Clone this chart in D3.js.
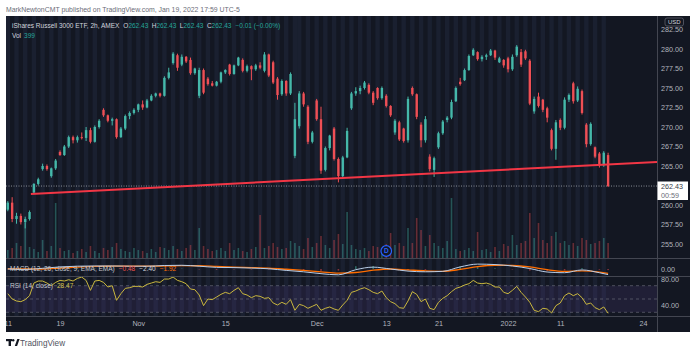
<!DOCTYPE html>
<html><head><meta charset="utf-8">
<script src="https://cdn.jsdelivr.net/npm/d3@7"></script>
<style>body{margin:0;background:#fff;}svg{display:block;font-family:"Liberation Sans",Arial,sans-serif;}</style>
</head><body>
<svg id="c" width="694" height="352"></svg>
<script>
// ---- DATA (2 candles per trading day, Oct 11 2021 – Jan 19 2022; Nov 26 half day = 1 candle)
const open=[259.4,260.3,258.2,258.6,257.8,258.2,261.6,262.7,264.6,265.0,
263.7,264.7,266.8,266.4,267.5,268.7,268.3,268.7,268.6,269.6,
268.1,270.0,272.2,271.5,270.8,271.0,268.7,269.8,271.4,271.8,
272.2,272.9,272.5,273.4,274.0,274.3,274.0,276.3,278.2,279.2,
278.0,279.0,278.6,276.9,274.0,277.3,276.2,275.6,275.3,275.8,
277.0,278.0,276.8,277.9,278.6,277.2,277.8,277.4,277.9,277.2,
279.3,278.3,276.2,274.2,275.9,274.3,266.3,270.1,274.3,272.6,
268.1,273.4,271.0,264.5,267.3,269.8,265.9,263.7,266.1,272.4,
274.3,274.6,275.0,275.4,274.4,275.0,273.7,274.0,272.7,269.3,
270.6,269.8,268.3,275.0,274.2,270.3,268.3,266.2,264.5,267.4,
269.2,270.9,271.2,273.3,275.8,276.0,277.3,279.2,279.6,278.7,
279.0,279.2,279.8,278.3,278.6,278.8,277.4,279.2,279.6,279.7,
278.5,272.0,273.9,273.5,272.4,269.6,267.2,270.9,269.9,273.5,
275.6,273.4,274.6,270.3,267.8,267.4,266.6,265.1,266.4];
const high=[260.5,261.0,259.0,258.9,258.5,259.3,262.8,263.5,265.3,265.2,
264.8,265.9,267.0,267.7,268.9,268.9,268.9,269.3,270.0,269.9,
270.2,271.0,272.4,271.6,271.2,271.1,270.0,271.6,272.0,272.4,
273.0,273.4,273.6,274.2,274.4,274.4,276.5,277.6,279.6,279.4,
279.3,279.1,278.9,277.6,277.6,277.5,276.4,275.9,275.9,277.1,
277.4,278.1,278.0,279.0,278.8,278.0,277.9,278.1,278.3,279.6,
279.4,278.5,276.4,276.1,276.0,277.0,273.1,274.6,274.5,272.8,
269.5,273.6,272.6,267.5,269.0,270.0,266.1,266.3,269.9,274.5,
275.1,275.3,275.9,275.6,274.6,275.1,275.2,274.2,272.8,271.0,
270.8,269.9,273.9,275.2,274.3,270.6,271.4,266.5,266.2,269.4,
270.9,271.4,273.5,275.2,276.3,277.5,279.3,280.1,279.7,279.2,
279.4,280.0,279.9,279.0,278.7,279.0,279.3,280.5,280.0,279.9,
278.7,273.9,274.4,273.6,272.6,269.8,270.9,271.1,273.8,274.3,
275.8,275.2,274.8,270.5,270.6,267.5,266.8,266.9,266.7];
const low=[259.2,257.8,257.6,257.5,257.0,258.0,261.4,262.5,264.4,264.4,
263.5,264.5,266.3,266.3,267.3,267.9,268.0,268.4,268.2,267.9,
268.0,269.8,271.3,270.6,270.2,268.5,268.6,269.6,271.0,271.6,
271.9,272.2,272.4,273.3,273.8,273.8,273.9,276.1,278.0,277.2,
277.8,278.2,276.7,276.7,273.7,274.2,275.3,275.2,275.2,275.6,
276.8,276.6,276.7,277.8,277.0,277.0,276.0,277.2,277.4,277.0,
276.4,275.5,273.5,274.0,274.0,274.1,266.0,269.8,272.6,267.8,
267.9,270.8,264.0,264.3,267.0,265.7,262.9,263.5,266.0,272.2,
274.0,274.2,274.8,274.2,272.8,273.5,273.5,272.5,271.3,269.0,
268.2,268.0,268.0,274.0,271.0,267.4,268.0,264.3,263.6,267.2,
269.0,270.6,271.0,273.2,275.3,275.9,277.2,279.1,278.5,278.4,
278.6,279.1,278.6,278.2,277.6,277.0,277.2,279.0,277.7,278.6,
272.8,271.7,272.5,271.9,270.6,267.0,265.8,269.6,269.7,273.2,
273.0,273.2,271.6,267.4,267.6,266.0,264.8,264.9,262.3];
const close=[260.3,258.2,258.6,257.8,258.2,259.1,262.7,263.3,265.0,264.6,
264.7,265.7,266.4,267.5,268.7,268.3,268.7,268.6,269.6,268.1,
270.0,270.8,271.5,270.8,271.0,268.7,269.8,271.4,271.8,272.2,
272.9,272.5,273.4,274.0,274.3,274.0,276.3,277.0,279.4,277.6,
279.0,278.4,276.9,277.5,277.3,274.4,275.5,275.3,275.8,277.0,
277.3,276.8,277.9,278.9,277.2,277.8,277.4,277.9,277.6,279.3,
276.6,275.7,274.1,275.9,274.3,276.8,271.0,274.3,272.9,268.1,
269.3,271.0,264.4,267.3,268.9,265.9,263.7,266.1,269.5,274.3,
274.6,275.0,275.7,274.4,273.1,273.7,275.0,272.7,271.5,270.8,
268.4,268.2,273.6,274.2,271.3,268.3,271.0,264.6,266.0,269.2,
270.7,271.2,273.2,275.0,275.5,277.3,279.1,279.9,278.7,279.0,
279.2,279.8,278.9,278.8,277.9,277.4,279.0,280.3,278.0,278.8,
273.0,273.6,272.7,272.2,271.2,267.2,270.6,269.9,273.5,274.1,
273.3,274.9,271.8,267.8,270.4,266.2,265.1,266.7,262.43];
const volume=[16,20,30,24,70,22,18,12,36,14,
24,110,20,14,16,10,14,18,12,24,
14,10,20,16,22,30,18,14,12,20,
16,14,10,18,12,22,20,16,24,18,
14,20,26,16,60,24,18,14,16,20,
14,30,16,20,14,12,18,22,86,20,
24,30,22,18,20,34,30,24,18,40,
22,30,44,26,20,36,48,28,92,26,
18,16,20,14,24,22,16,28,50,26,
30,24,60,30,80,56,24,46,30,24,
20,34,120,18,14,16,20,14,52,16,
18,12,22,14,28,24,46,26,30,34,
90,40,70,36,30,44,52,30,34,26,
30,24,40,36,28,30,34,40,30];
const rsi=[58,50,47,46,49,55,74,77,77,74,
70,75,78,77,79,77,81,83,78,63,
77,78,75,68,70,48,58,66,67,69,
69,68,72,74,76,75,80,80,83,78,
76,73,65,64,56,40,50,49,53,57,
60,58,63,67,58,56,52,55,54,51,
52,44,41,45,42,49,33,42,40,36,
39,42,33,36,38,35,33,41,48,60,
62,65,67,64,60,58,62,52,46,43,
37,36,47,61,57,46,50,36,34,45,
51,55,61,66,68,71,73,78,74,73,
74,72,68,68,60,58,63,69,60,53,
45,33,31,36,35,29,40,44,55,59,
55,58,52,42,44,37,34,38,28.47];
const macdBars=[0,4,8,12,16,20,24,28,32,36,40,44,48,52,56,60,64,68,72,76,80,84,88,92,96,100,104,108,112,116,120,124,128,132,136,138];
const macdLine=[0.0,-0.2,0.3,0.9,1.2,1.3,1.3,1.2,1.2,1.5,1.6,1.2,0.7,0.6,0.4,0.1,-0.6,-1.2,-2.0,-2.5,-0.3,0.8,0.0,-0.9,-1.2,-1.0,0.9,2.1,1.9,1.3,0.2,-1.3,-1.6,-0.4,-1.6,-2.40];
const signalLine=[0.1,0.0,0.0,0.4,0.8,1.1,1.2,1.25,1.2,1.3,1.45,1.4,1.1,0.8,0.6,0.35,-0.1,-0.6,-1.2,-1.8,-1.5,-0.5,0.0,-0.4,-0.8,-1.0,-0.2,1.0,1.6,1.5,0.9,-0.3,-1.0,-0.8,-1.3,-1.92];
const sessionBars=[2,2,2,2,2,2,2,2,2,2,2,2,2,2,2,2,2,2,2,2,2,2,2,2,2,2,2,2,2,2,2,2,2,1,2,2,2,2,2,2,2,2,2,2,2,2,2,2,2,2,2,2,2,2,2,2,2,2,2,2,2,2,2,2,2,2,2,2,2,2];
const xTickBars=[0,12,30,50,71,87,99,115,127,146];
const xTickLabels=["11","19","Nov","15","Dec","13","21","2022","11","24"];
const priceTicks=[282.5,280,277.5,275,272.5,270,267.5,265,262.5,260,257.5,255];
const trendPts=[{bar:5.3,price:261.4},{bar:138,price:265.2}];
const lastPrice=262.43;
const dividendBar=87;

// ---- LAYOUT
const X0=6,X1=657,XR=690,Y0=16,YM=258,YMA=276,YR=316,YB=332;
const UP="#45b8aa",DN="#ef4f55";
const FONT='"Liberation Sans",Arial,sans-serif';
const svg=d3.select('#c');
const x=d3.scaleLinear().domain([0,1]).range([7.8,12.15]);
const y=d3.scaleLinear().domain([255,280]).range([244,49]);
const yVol=d3.scaleLinear().domain([0,120]).range([YM,YM-60]);
const yMacd=d3.scaleLinear().domain([-3,3]).range([276,262]);
const yRsi=d3.scaleLinear().domain([30,70]).range([312.3,285.7]);

const defs=svg.append('defs');
function clip(id,x0,y0,w,h){defs.append('clipPath').attr('id',id).append('rect').attr('x',x0).attr('y',y0).attr('width',w).attr('height',h);}
clip('cMain',X0,Y0,X1-X0,YM-Y0);
clip('cMacd',X0,YM,X1-X0,YMA-YM);
clip('cRsi',X0,YMA,X1-X0,YR-YMA);
clip('cAll',X0,Y0,X1-X0,YR-Y0);
clip('cTime',X0,YR,X1-X0,YB-YR);
clip('cPAx',X1,27,XR-X1,YM-27);
clip('cRAx',X1,YMA+0.5,XR-X1,YR-YMA);

svg.append('rect').attr('width',694).attr('height',352).attr('fill','#fff');
svg.append('rect').attr('x',X0).attr('y',Y0).attr('width',XR-X0).attr('height',YB-Y0).attr('fill','#131722');

// session stripes
const gS=svg.append('g').attr('clip-path','url(#cAll)');
let b=0;const dayStarts=[];
sessionBars.forEach(n=>{dayStarts.push(b);b+=n;});
gS.selectAll('rect').data(dayStarts).join('rect')
 .attr('x',d=>x(d)-2.2).attr('width',4.4).attr('y',Y0).attr('height',YR-Y0).attr('fill','#1a2030');

// RSI band
const gR=svg.append('g').attr('clip-path','url(#cRsi)');
gR.append('rect').attr('x',X0).attr('width',X1-X0).attr('y',yRsi(70)).attr('height',yRsi(30)-yRsi(70)).attr('fill','rgba(126,87,194,0.13)');
gR.selectAll('line.l').data([70,50,30]).join('line').attr('x1',X0).attr('x2',X1).attr('y1',d=>yRsi(d)).attr('y2',d=>yRsi(d))
 .attr('stroke','#787b86').attr('stroke-opacity',0.7).attr('stroke-dasharray','3,3').attr('stroke-width',0.8);
gR.append('path').datum(rsi).attr('fill','none').attr('stroke','#c9b73e').attr('stroke-width',1)
 .attr('d',d3.line().x((d,i)=>x(i)).y(d=>yRsi(d)));

// Main pane
const gM=svg.append('g').attr('clip-path','url(#cMain)');
const idx=d3.range(close.length);
gM.selectAll('rect.v').data(idx).join('rect').attr('class','v')
 .attr('x',i=>x(i)-0.8).attr('width',1.6).attr('y',i=>yVol(volume[i])).attr('height',i=>YM-yVol(volume[i]))
 .attr('fill',i=>close[i]>=open[i]?UP:DN).attr('opacity',0.38);
// dividend marker
const dg=gM.append('g').attr('transform',`translate(${x(dividendBar)},251)`);
dg.append('circle').attr('r',5.3).attr('fill','#131722').attr('stroke','#2962ff').attr('stroke-width',1.2);
dg.append('text').text('D').attr('text-anchor','middle').attr('dy','2.4').attr('font-size',6.5).attr('font-weight','bold').attr('fill','#2962ff').attr('font-family',FONT);
// current price dotted line
gM.append('line').attr('x1',X0).attr('x2',X1).attr('y1',y(lastPrice)).attr('y2',y(lastPrice))
 .attr('stroke','#8a8d96').attr('stroke-dasharray','1,1.5').attr('stroke-width',1);
// candles
gM.selectAll('line.w').data(idx).join('line').attr('class','w')
 .attr('x1',i=>x(i)).attr('x2',i=>x(i)).attr('y1',i=>y(high[i])).attr('y2',i=>y(low[i]))
 .attr('stroke',i=>close[i]>=open[i]?UP:DN).attr('stroke-width',1);
gM.selectAll('rect.c').data(idx).join('rect').attr('class','c')
 .attr('x',i=>x(i)-1.2).attr('width',2.4)
 .attr('y',i=>y(Math.max(open[i],close[i])))
 .attr('height',i=>Math.max(1,Math.abs(y(open[i])-y(close[i]))))
 .attr('fill',i=>close[i]>=open[i]?UP:DN);
// trend line (extended right)
const p1=[x(trendPts[0].bar),y(trendPts[0].price)],p2=[x(trendPts[1].bar),y(trendPts[1].price)];
const sl=(p2[1]-p1[1])/(p2[0]-p1[0]);
gM.append('line').attr('x1',p1[0]).attr('y1',p1[1]).attr('x2',X1).attr('y2',p1[1]+sl*(X1-p1[0]))
 .attr('stroke','#f23645').attr('stroke-width',2);

// MACD pane
const gMa=svg.append('g').attr('clip-path','url(#cMacd)');
gMa.selectAll('rect').data(macdBars).join('rect')
 .attr('x',(d,i)=>x(d)-0.8).attr('width',1.6)
 .attr('y',(d,i)=>Math.min(yMacd(0),yMacd(macdLine[i]-signalLine[i])))
 .attr('height',(d,i)=>Math.abs(yMacd(macdLine[i]-signalLine[i])-yMacd(0)))
 .attr('fill',(d,i)=>macdLine[i]-signalLine[i]>=0?UP:DN).attr('opacity',0.5);
gMa.append('path').datum(signalLine).attr('fill','none').attr('stroke','#ff6d00').attr('stroke-width',1.3)
 .attr('d',d3.line().curve(d3.curveMonotoneX).x((d,i)=>x(macdBars[i])).y(d=>yMacd(d)));
gMa.append('path').datum(macdLine).attr('fill','none').attr('stroke','#b8cde6').attr('stroke-width',1)
 .attr('d',d3.line().curve(d3.curveMonotoneX).x((d,i)=>x(macdBars[i])).y(d=>yMacd(d)));

// separators
const sep=svg.append('g').attr('stroke','#434651').attr('stroke-width',1);
[YM,YMA,YR].forEach(v=>sep.append('line').attr('x1',X0).attr('x2',XR).attr('y1',v+0.5).attr('y2',v+0.5));
sep.append('line').attr('x1',X1+0.5).attr('x2',X1+0.5).attr('y1',Y0).attr('y2',YB);

function styleAxis(g){g.select('.domain').remove();g.selectAll('line').remove();
 g.selectAll('text').attr('fill','#b2b5be').attr('font-size',7.2).attr('font-family',FONT);}
// price axis
const pa=svg.append('g').attr('clip-path','url(#cPAx)').append('g').attr('transform',`translate(${X1+4},0)`)
 .call(d3.axisRight(y).tickValues(priceTicks).tickSize(0).tickPadding(0).tickFormat(d3.format('.2f')));
styleAxis(pa);
// USD badge
svg.append('rect').attr('x',665).attr('y',18).attr('width',18.5).attr('height',8).attr('rx',2).attr('fill','#131722').attr('stroke','#5d606b').attr('stroke-width',0.8);
svg.append('text').text('USD').attr('x',674.3).attr('y',24.4).attr('text-anchor','middle').attr('font-size',6).attr('fill','#d1d4dc').attr('font-family',FONT);
// last price label
svg.append('rect').attr('x',X1+0.5).attr('y',181.5).attr('width',30.5).attr('height',18.5).attr('fill','#ffffff');
svg.append('text').text(d3.format('.2f')(lastPrice)).attr('x',X1+4).attr('y',189.2).attr('font-size',7.2).attr('fill','#363a45').attr('font-family',FONT);
svg.append('text').text('00:59').attr('x',X1+4).attr('y',197.8).attr('font-size',7.2).attr('fill','#6a6d78').attr('font-family',FONT);
// MACD axis
const ma=svg.append('g').attr('transform',`translate(${X1+4},0)`)
 .call(d3.axisRight(yMacd).tickValues([0]).tickSize(0).tickPadding(0).tickFormat(d3.format('.2f')));
styleAxis(ma);
// RSI axis
const ra=svg.append('g').attr('clip-path','url(#cRAx)').append('g').attr('transform',`translate(${X1+4},0)`)
 .call(d3.axisRight(yRsi).tickValues([80,40]).tickSize(0).tickPadding(0).tickFormat(d3.format('.2f')));
styleAxis(ra);
// time axis
const ta=svg.append('g').attr('clip-path','url(#cTime)').append('g').attr('transform',`translate(0,${YR})`)
 .call(d3.axisBottom(x).tickValues(xTickBars).tickSize(0).tickPadding(5).tickFormat((d,i)=>xTickLabels[i]));
styleAxis(ta);

// texts
function txt(s,xx,yy,fill,size){return svg.append('text').text(s).attr('x',xx).attr('y',yy).attr('fill',fill).attr('font-size',size||7).attr('font-family',FONT);}
txt('MarkNewtonCMT published on TradingView.com, Jan 19, 2022 17:59 UTC-5',6,11.5,'#6a6d78',6.9);
const TL="#26a69a", LG="#d1d4dc";
const lg=svg.append('text').attr('x',12).attr('y',27.5).attr('font-size',6.5).attr('font-family',FONT).attr('fill',LG);
lg.append('tspan').text('iShares Russell 3000 ETF, 2h, AMEX');
['O','H','L','C'].forEach((k,j)=>{
  lg.append('tspan').text(k).attr('fill',LG).attr('dx',j===0?4:3.5);
  lg.append('tspan').text(d3.format('.2f')(lastPrice)).attr('fill',TL);
});
lg.append('tspan').text('−0.01 (−0.00%)').attr('fill',TL).attr('dx',4);
const vl=svg.append('text').attr('x',12).attr('y',38).attr('font-size',6.5).attr('font-family',FONT).attr('fill',LG);
vl.append('tspan').text('Vol');vl.append('tspan').text('399').attr('fill',TL).attr('dx',3);
const ml=svg.append('text').attr('x',10).attr('y',270.5).attr('font-size',6.5).attr('font-family',FONT).attr('fill','#c3c6ce');
ml.append('tspan').text('MACD (12, 26, close, 9, EMA, EMA)');
ml.append('tspan').text('−0.48').attr('fill','#ef5350').attr('dx',4);
ml.append('tspan').text('−2.40').attr('fill','#d1d4dc').attr('dx',4);
ml.append('tspan').text('−1.92').attr('fill','#ff6d00').attr('dx',4);
const rl=svg.append('text').attr('x',10).attr('y',287.5).attr('font-size',6.5).attr('font-family',FONT).attr('fill','#c3c6ce');
rl.append('tspan').text('RSI (14, close)');
rl.append('tspan').text('28.47').attr('fill','#d4c24a').attr('dx',4);
// footer logo
const lgG=svg.append('g').attr('fill','#131722');
lgG.append('rect').attr('x',6).attr('y',339).attr('width',6).attr('height',2.2);
lgG.append('rect').attr('x',8.6).attr('y',339).attr('width',2.4).attr('height',7);
lgG.append('circle').attr('cx',13.2).attr('cy',340.2).attr('r',1.2);
lgG.append('path').attr('d','M14.8,346 L17.3,339 L19.6,339 L17.1,346 Z');
txt('TradingView',20,346,'#50535e',8.2);
</script>
</body></html>
